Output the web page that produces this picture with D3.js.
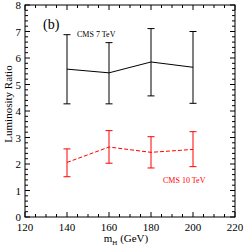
<!DOCTYPE html>
<html>
<head>
<meta charset="utf-8">
<script src="https://cdn.jsdelivr.net/npm/d3@7"></script>
<style>
  body { margin: 0; background: #fff; }
  svg text { font-family: "Liberation Serif", "Times New Roman", "DejaVu Serif", serif; }
</style>
</head>
<body>
<svg width="245" height="248"></svg>
<script>
// data
var masses = [140, 160, 180, 200];
var cms7 = [5.58, 5.44, 5.85, 5.65];
var cms7Lo = [4.27, 4.27, 4.57, 4.29];
var cms7Hi = [6.88, 6.58, 7.11, 7.00];
var cms10 = [2.06, 2.64, 2.44, 2.55];
var cms10Lo = [1.52, 2.03, 1.85, 1.90];
var cms10Hi = [2.57, 3.26, 3.03, 3.22];
var xTicks = [120, 140, 160, 180, 200, 220];
var yTicks = [0, 1, 2, 3, 4, 5, 6, 7, 8];

var svg = d3.select("svg");
var serif = "Liberation Serif, Times New Roman, serif";

var x = d3.scaleLinear().domain([120, 220]).range([25, 235]);
var y = d3.scaleLinear().domain([0, 8]).range([217, 5]);

// frame
svg.append("rect")
    .attr("x", x(120)).attr("y", y(8))
    .attr("width", x(220) - x(120)).attr("height", y(0) - y(8))
    .attr("fill", "none").attr("stroke", "#000").attr("stroke-width", 1);

// ticks, inward on all sides
var g = svg.append("g").attr("stroke", "#000").attr("stroke-width", 1);
d3.range(120, 221, 5).forEach(function(v) {
  var len = v % 20 == 0 ? 5 : 3;
  g.append("line").attr("x1", x(v)).attr("x2", x(v)).attr("y1", y(0)).attr("y2", y(0) - len);
  g.append("line").attr("x1", x(v)).attr("x2", x(v)).attr("y1", y(8)).attr("y2", y(8) + len);
});
d3.range(0, 8.01, 0.2).forEach(function(v) {
  var major = Math.abs(v - Math.round(v)) < 1e-6;
  var len = major ? 5 : 3;
  g.append("line").attr("y1", y(v)).attr("y2", y(v)).attr("x1", x(120)).attr("x2", x(120) + len);
  g.append("line").attr("y1", y(v)).attr("y2", y(v)).attr("x1", x(220)).attr("x2", x(220) - len);
});

// tick labels
svg.selectAll(".xl").data(xTicks).enter().append("text")
    .attr("x", function(d) { return x(d); })
    .attr("y", 231)
    .attr("text-anchor", "middle")
    .attr("font-family", serif)
    .attr("font-size", 11)
    .text(function(d) { return d; });
svg.selectAll(".yl").data(yTicks).enter().append("text")
    .attr("x", 21)
    .attr("y", function(d) { return y(d) + 4; })
    .attr("text-anchor", "end")
    .attr("font-family", serif)
    .attr("font-size", 11)
    .text(function(d) { return d; });

// axis titles
var xt = svg.append("text")
    .attr("x", 126).attr("y", 242)
    .attr("text-anchor", "middle")
    .attr("font-family", serif)
    .attr("font-size", 11);
xt.append("tspan").text("m");
xt.append("tspan").attr("font-size", 7).attr("dy", 3).text("H");
xt.append("tspan").attr("dy", -3).text(" (GeV)");

svg.append("text")
    .attr("transform", "translate(12,104) rotate(-90)")
    .attr("text-anchor", "middle")
    .attr("font-family", serif)
    .attr("font-size", 11)
    .text("Luminosity Ratio");

svg.append("text")
    .attr("x", 43).attr("y", 29)
    .attr("font-family", serif)
    .attr("font-size", 14)
    .text("(b)");

function series(vals, lo, hi, color, dash) {
  var line = d3.line()
      .x(function(d, i) { return x(masses[i]); })
      .y(function(d) { return y(d); });
  svg.append("path")
      .datum(vals)
      .attr("d", line)
      .attr("fill", "none")
      .attr("stroke", color)
      .attr("stroke-width", 1)
      .attr("stroke-dasharray", dash);
  var eb = svg.append("g").attr("stroke", color).attr("stroke-width", 1);
  masses.forEach(function(m, i) {
    eb.append("line").attr("x1", x(m)).attr("x2", x(m)).attr("y1", y(lo[i])).attr("y2", y(hi[i]));
    eb.append("line").attr("x1", x(m) - 3.5).attr("x2", x(m) + 3.5).attr("y1", y(lo[i])).attr("y2", y(lo[i]));
    eb.append("line").attr("x1", x(m) - 3.5).attr("x2", x(m) + 3.5).attr("y1", y(hi[i])).attr("y2", y(hi[i]));
  });
}

series(cms7, cms7Lo, cms7Hi, "#000", null);
series(cms10, cms10Lo, cms10Hi, "#f00", "4,2");

svg.append("text")
    .attr("x", 77).attr("y", 37)
    .attr("font-family", serif)
    .attr("font-size", 8)
    .text("CMS 7 TeV");
svg.append("text")
    .attr("x", 163).attr("y", 183)
    .attr("font-family", serif)
    .attr("font-size", 8)
    .attr("fill", "#f00")
    .text("CMS 10 TeV");
</script>
</body>
</html>
